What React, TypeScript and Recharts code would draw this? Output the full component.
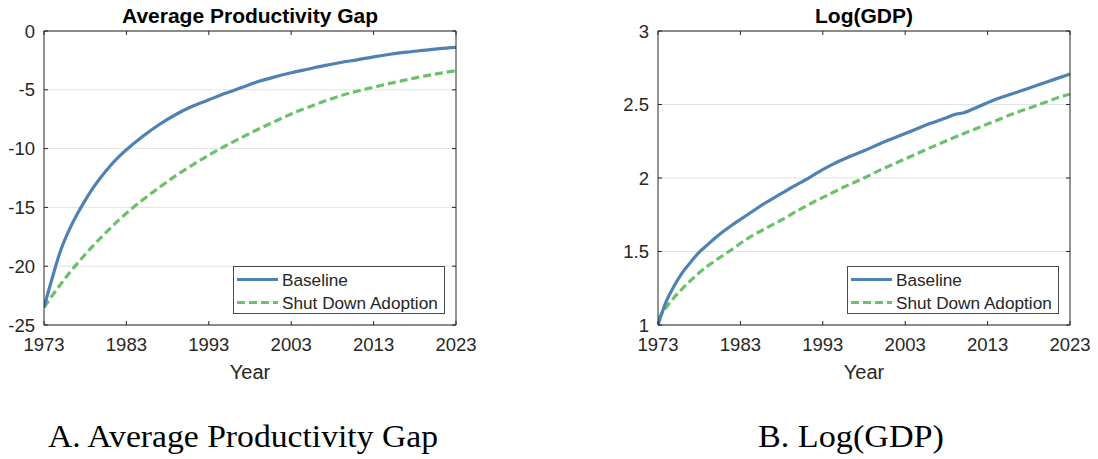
import React from 'react';
import { LineChart, Line, XAxis, YAxis, CartesianGrid } from 'recharts';

// ---------- Data ----------
const gapYears = [1973, 1974, 1975, 1976, 1977, 1978, 1979, 1980, 1981, 1982, 1983, 1985, 1987, 1989, 1991, 1993, 1995, 1997, 1999, 2001, 2003, 2005, 2007, 2009, 2011, 2013, 2015, 2017, 2019, 2021, 2023];
const gapBaseline = [-23.5, -21.0, -18.7, -17.0, -15.6, -14.4, -13.3, -12.35, -11.5, -10.75, -10.1, -8.95, -7.95, -7.1, -6.4, -5.85, -5.3, -4.8, -4.3, -3.9, -3.55, -3.25, -2.95, -2.68, -2.45, -2.2, -1.98, -1.8, -1.65, -1.5, -1.4];
const gapShutDown = [-23.5, -22.5, -21.55, -20.65, -19.8, -19.0, -18.23, -17.5, -16.8, -16.13, -15.5, -14.35, -13.3, -12.3, -11.4, -10.55, -9.78, -9.05, -8.35, -7.7, -7.05, -6.5, -5.98, -5.5, -5.12, -4.78, -4.45, -4.15, -3.85, -3.6, -3.37];

const gdpYears = [1973, 1974, 1975, 1976, 1977, 1978, 1979, 1980, 1982, 1984, 1986, 1988, 1990, 1991, 1992, 1994, 1996, 1998, 2000, 2002, 2004, 2006, 2008, 2009, 2010, 2012, 2014, 2016, 2018, 2020, 2022, 2023];
const gdpBaseline = [1.0, 1.16, 1.27, 1.36, 1.43, 1.495, 1.545, 1.595, 1.68, 1.755, 1.83, 1.895, 1.96, 1.99, 2.025, 2.088, 2.14, 2.185, 2.235, 2.28, 2.325, 2.37, 2.41, 2.432, 2.442, 2.488, 2.536, 2.573, 2.611, 2.65, 2.688, 2.707];
const gdpShutDown = [1.04, 1.12, 1.19, 1.25, 1.305, 1.355, 1.4, 1.44, 1.515, 1.593, 1.655, 1.715, 1.78, 1.81, 1.84, 1.895, 1.95, 2.0, 2.055, 2.105, 2.155, 2.205, 2.253, 2.277, 2.3, 2.345, 2.39, 2.435, 2.475, 2.515, 2.555, 2.57];

const xTicks = [1973, 1983, 1993, 2003, 2013, 2023];
const gapTicks = [-25, -20, -15, -10, -5, 0];
const gdpTicks = [1, 1.5, 2, 2.5, 3];

const seriesNames = ['Baseline', 'Shut Down Adoption'];
const panelTitles = ['Average Productivity Gap', 'Log(GDP)'];
const captions = ['A. Average Productivity Gap', 'B. Log(GDP)'];
const xLabel = 'Year';

// ---------- Styles ----------
const SANS = "'Liberation Sans', Arial, Helvetica, sans-serif";
const SERIF = "'Liberation Serif', 'Times New Roman', serif";
const AX = '#262626';
const BLUE = '#4F82B3';
const GREEN = '#6CC06C';

const CHART_W = 484;
const CHART_H = 459;

type PanelProps = {
  left: number;
  years: number[];
  base: number[];
  shut: number[];
  domain: [number, number];
  yTicks: number[];
};

const tickStyle = { fontSize: 18.5, fill: AX, fontFamily: SANS };

function Panel({ left, years, base, shut, domain, yTicks }: PanelProps) {
  const data = years.map((y, i) => ({ year: y, base: base[i], shut: shut[i] }));
  return (
    <div style={{ position: 'absolute', left, top: 0, width: CHART_W, height: CHART_H }}>
      <LineChart
        width={CHART_W}
        height={CHART_H}
        data={data}
        margin={{ top: 21, right: 18, bottom: 104, left: 0 }}
      >
        <CartesianGrid vertical={false} stroke="#e3e3e3" strokeWidth={1} />
        <XAxis
          dataKey="year"
          type="number"
          domain={[1973, 2023]}
          ticks={xTicks}
          allowDataOverflow
          height={30}
          tickSize={-4}
          tickMargin={17}
          tick={tickStyle}
          stroke={AX}
          axisLine={{ stroke: AX }}
          tickLine={{ stroke: AX }}
        />
        <XAxis
          xAxisId="top"
          orientation="top"
          dataKey="year"
          type="number"
          domain={[1973, 2023]}
          ticks={xTicks}
          allowDataOverflow
          height={10}
          tickSize={-4}
          tickFormatter={() => ''}
          axisLine={{ stroke: AX }}
          tickLine={{ stroke: AX }}
        />
        <YAxis
          type="number"
          domain={domain}
          ticks={yTicks}
          allowDataOverflow
          width={44}
          tickSize={-4}
          tickMargin={13}
          tick={tickStyle}
          axisLine={{ stroke: AX }}
          tickLine={{ stroke: AX }}
        />
        <YAxis
          yAxisId="right"
          orientation="right"
          type="number"
          domain={domain}
          ticks={yTicks}
          allowDataOverflow
          width={10}
          tickSize={-4}
          tickFormatter={() => ''}
          axisLine={{ stroke: AX }}
          tickLine={{ stroke: AX }}
        />
        <Line
          type="monotone"
          dataKey="shut"
          name={seriesNames[1]}
          stroke={GREEN}
          strokeWidth={3.2}
          strokeDasharray="8 4"
          dot={false}
          isAnimationActive={false}
        />
        <Line
          type="monotone"
          dataKey="base"
          name={seriesNames[0]}
          stroke={BLUE}
          strokeWidth={3.2}
          dot={false}
          isAnimationActive={false}
        />
      </LineChart>
      <div
        style={{
          position: 'absolute',
          left: 233,
          top: 266,
          width: 212,
          height: 48,
          boxSizing: 'border-box',
          border: '1px solid #4a4a4a',
          background: '#fff',
        }}
      >
        <svg width={210} height={46} style={{ position: 'absolute', left: 0, top: 0 }}>
          <line x1={3} x2={44} y1={12.5} y2={12.5} stroke={BLUE} strokeWidth={3.2} />
          <line x1={3} x2={44} y1={35.5} y2={35.5} stroke={GREEN} strokeWidth={3.2} strokeDasharray="8 4" />
          <text x={48} y={18.5} fontSize={17.2} fontFamily={SANS} fill={AX}>{seriesNames[0]}</text>
          <text x={48} y={41.5} fontSize={17.2} fontFamily={SANS} fill={AX}>{seriesNames[1]}</text>
        </svg>
      </div>
    </div>
  );
}

export default function App() {
  return (
    <div style={{ position: 'absolute', left: 0, top: 0, width: 1098, height: 459, background: '#fff', overflow: 'hidden' }}>
      <Panel left={0} years={gapYears} base={gapBaseline} shut={gapShutDown} domain={[-25, 0]} yTicks={gapTicks} />
      <Panel left={614} years={gdpYears} base={gdpBaseline} shut={gdpShutDown} domain={[1, 3]} yTicks={gdpTicks} />
      <svg width={1098} height={459} style={{ position: 'absolute', left: 0, top: 0, pointerEvents: 'none' }}>
        <text x={250} y={22.5} textAnchor="middle" fontFamily={SANS} fontWeight="bold" fontSize={21} fill="#000">{panelTitles[0]}</text>
        <text x={864} y={22.5} textAnchor="middle" fontFamily={SANS} fontWeight="bold" fontSize={21} fill="#000">{panelTitles[1]}</text>
        <text x={250} y={379} textAnchor="middle" fontFamily={SANS} fontSize={20} fill={AX}>{xLabel}</text>
        <text x={864} y={379} textAnchor="middle" fontFamily={SANS} fontSize={20} fill={AX}>{xLabel}</text>
        <text x={243} y={446.5} textAnchor="middle" fontFamily={SERIF} fontSize={31} fill="#000" textLength={390} lengthAdjust="spacingAndGlyphs">{captions[0]}</text>
        <text x={851} y={446.5} textAnchor="middle" fontFamily={SERIF} fontSize={31} fill="#000" textLength={186} lengthAdjust="spacingAndGlyphs">{captions[1]}</text>
      </svg>
    </div>
  );
}
